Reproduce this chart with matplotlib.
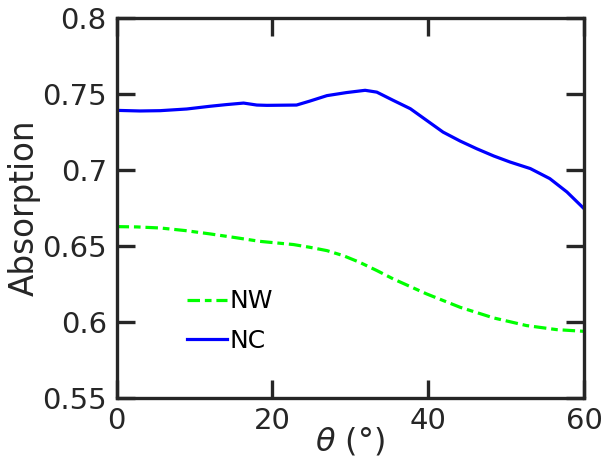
import matplotlib

matplotlib.use("Agg")

import matplotlib.pyplot as plt

# values
theta_nc = [0, 3.0, 5.6, 9.0, 12.0, 14.1, 16.3, 18.0, 19.3, 23.1, 24.8, 27.0, 29.5, 31.9,
            33.4, 35.5, 37.7, 39.8, 41.9, 44.1, 46.2, 48.4, 50.5, 53.1, 55.6, 57.8, 60]
nc = [0.7390, 0.7386, 0.7388, 0.7399, 0.7417, 0.7428, 0.7438, 0.7425, 0.7423, 0.7425,
      0.7451, 0.7487, 0.7507, 0.7522, 0.7510, 0.7456, 0.7401, 0.7324, 0.7247, 0.7188,
      0.7138, 0.7090, 0.7050, 0.7007, 0.6941, 0.6853, 0.6743]

theta_nw = [0, 2.6, 5.6, 8.8, 12.0, 15.2, 18.4, 22.7, 24.8, 27.0, 29.1, 31.2, 33.4, 35.5,
            39.8, 44.1, 48.4, 52.6, 56.5, 60]
nw = [0.6625, 0.6623, 0.6616, 0.6599, 0.6577, 0.6553, 0.6528, 0.6507, 0.6489, 0.6467,
      0.6434, 0.6390, 0.6336, 0.6281, 0.6182, 0.6094, 0.6024, 0.5974, 0.5947, 0.5936]

xticks = [0, 20, 40, 60]
yticks = [0.55, 0.6, 0.65, 0.7, 0.75, 0.8]
ytick_labels = ["0.55", "0.6", "0.65", "0.7", "0.75", "0.8"]

dark = "#262626"
plt.rcParams["font.family"] = "DejaVu Sans"
plt.rcParams["lines.scale_dashes"] = False

fig = plt.figure(figsize=(6.04, 4.65), dpi=100)
ax = fig.add_axes([0.193, 0.145, 0.774, 0.817])

ax.plot(theta_nw, nw, color="#00ff00", ls=(0, (9, 3.5, 4.8, 3.5)), lw=2.3, label="NW")
ax.plot(theta_nc, nc, color="#0000ff", ls="-", lw=2.3, label="NC")

ax.set_xlim(0, 60)
ax.set_ylim(0.55, 0.8)
ax.set_xticks(xticks)
ax.set_yticks(yticks)
ax.set_yticklabels(ytick_labels)
ax.tick_params(direction="in", length=13, width=2.4, colors=dark, labelsize=21,
               top=True, right=True, pad=7)
for s in ax.spines.values():
    s.set_linewidth(2.4)
    s.set_color(dark)

ax.set_xlabel(r"$\theta$ (°)", fontsize=23, color=dark, labelpad=-7)
ax.set_ylabel("Absorption", fontsize=23.5, color=dark, labelpad=1)

ax.legend(loc="upper left", bbox_to_anchor=(0.15, 0.285), frameon=False, fontsize=18,
          handlelength=1.6, handletextpad=0.1, labelspacing=0.62, borderpad=0,
          borderaxespad=0)

fig.savefig("out.png", dpi=100)
